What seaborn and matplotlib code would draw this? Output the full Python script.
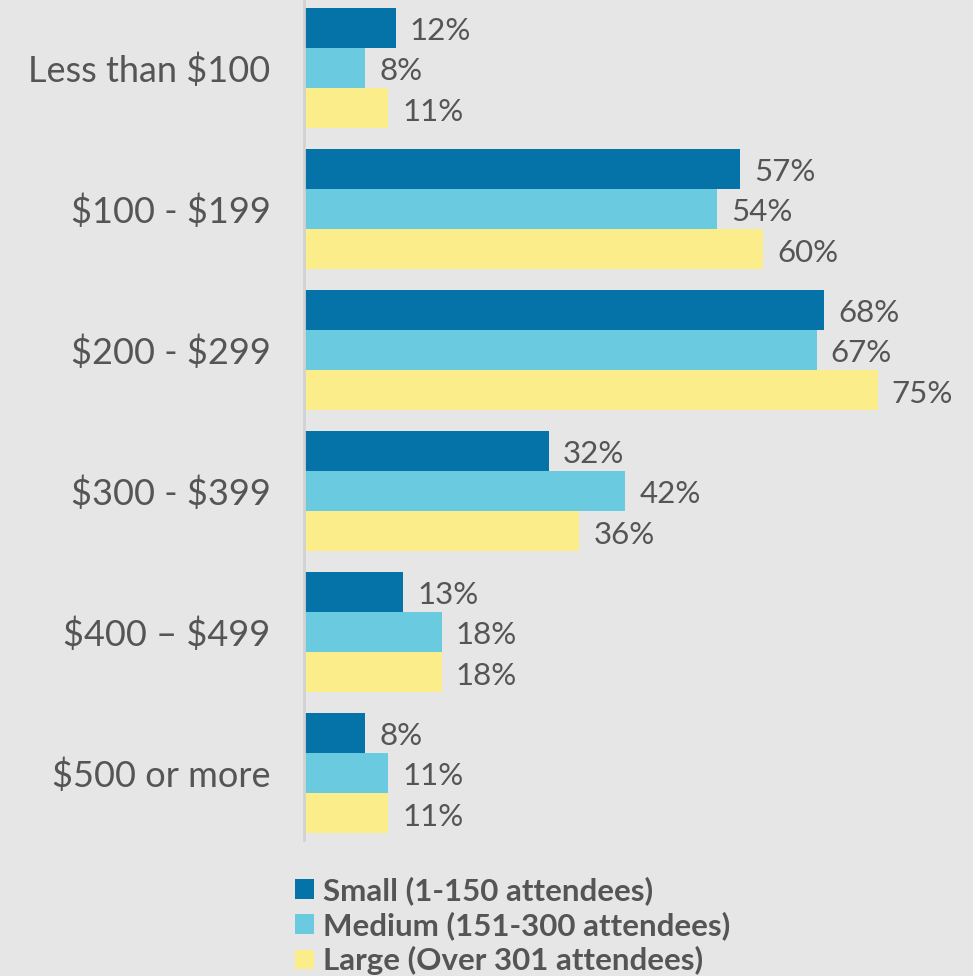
import pandas as pd
import matplotlib.pyplot as plt
import seaborn as sns
from matplotlib.patches import Patch

# values
categories = ["Less than $100", "$100 - $199", "$200 - $299",
              "$300 - $399", "$400 – $499", "$500 or more"]
small = [12, 57, 68, 32, 13, 8]
medium = [8, 54, 67, 42, 18, 11]
large = [11, 60, 75, 36, 18, 11]
groups = ["Small (1-150 attendees)", "Medium (151-300 attendees)",
          "Large (Over 301 attendees)"]
colors = ["#0572a8", "#69cae0", "#fbee8a"]

bg = "#e6e6e6"
text_col = "#555555"

df = pd.DataFrame({
    "price": categories * 3,
    "share": small + medium + large,
    "size": [groups[0]] * 6 + [groups[1]] * 6 + [groups[2]] * 6,
})

sns.set_theme(style="white")
plt.rcParams["font.family"] = ["Lato", "DejaVu Sans"]
plt.rcParams["text.parse_math"] = False  # keep the $ signs literal

fig = plt.figure(figsize=(9.73, 9.76), dpi=100, facecolor=bg)
ax = fig.add_axes([304 / 973, 1 - 840 / 976, 1 - 304 / 973, 840 / 976])
ax.set_facecolor(bg)

sns.barplot(data=df, y="price", x="share", hue="size", hue_order=groups,
            palette=colors, orient="h", width=0.855, gap=0, saturation=1,
            linewidth=0, legend=False, ax=ax)

px = 7.65  # pixels per percent
ax.set_xlim(0, (973 - 304) / px)
ax.set_ylim((840 - 68) / 141, -68 / 141)

for cont in ax.containers:
    labels = ax.bar_label(cont, labels=[f"{v:.0f}%" for v in cont.datavalues],
                          padding=10, fontsize=22.5, color=text_col)
    for t in labels:
        t.xyann = (t.xyann[0], -2.5)  # nudge down a little, like the original

ax.set_xlabel("")
ax.set_ylabel("")
ax.set_xticks([])
ax.tick_params(axis="y", length=0, pad=24, labelsize=26, labelcolor=text_col)

for s in ["top", "right", "bottom"]:
    ax.spines[s].set_visible(False)
ax.spines["left"].set_color("#d2d2d2")
ax.spines["left"].set_linewidth(2)

handles = [Patch(facecolor=c, edgecolor="none", label=g) for c, g in zip(colors, groups)]
fig.legend(handles=handles, loc="upper left", bbox_to_anchor=(295 / 973, 1 - 876 / 976),
           frameon=False, handlelength=0.6, handleheight=0.6, handletextpad=0.3,
           labelspacing=0.2, borderpad=0, borderaxespad=0,
           prop={"family": ["Lato", "DejaVu Sans"], "weight": "bold", "size": 22.5},
           labelcolor=text_col)

fig.savefig("out.png", dpi=100, facecolor=bg)
